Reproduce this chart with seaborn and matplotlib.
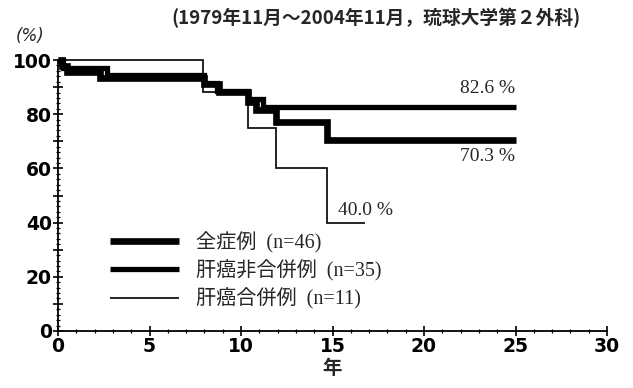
import numpy as np
import pandas as pd
import seaborn as sns
import matplotlib
matplotlib.use("Agg")
import matplotlib.pyplot as plt
from matplotlib.ticker import MultipleLocator, FuncFormatter

# --- データ (年, 生存率 %) ---
all_years = [0, 0.2, 0.5, 2.3, 8.0, 8.8, 10.4, 10.8, 11.9, 14.7, 25.0]
all_surv = [100, 97.8, 95.7, 93.4, 91.2, 88.2, 84.4, 81.6, 77.0, 70.3, 70.3]

noncirr_years = [0, 0.3, 2.7, 8.0, 8.7, 10.4, 11.2, 25.0]
noncirr_surv = [100, 97.1, 94.3, 91.4, 88.6, 85.7, 82.6, 82.6]

cirr_years = [0, 7.9, 10.4, 11.9, 14.7, 16.8]
cirr_surv = [100, 88.2, 75.0, 60.0, 40.0, 40.0]

labels = ["全症例  (n=46)", "肝癌非合併例  (n=35)", "肝癌合併例  (n=11)"]
end_labels = ["70.3 %", "82.6 %", "40.0 %"]

sns.set_style("ticks")
plt.rcParams["font.family"] = ["DejaVu Sans", "Noto Sans CJK JP"]

fig = plt.figure(figsize=(6.33, 3.88), dpi=100)
ax = fig.add_axes([58 / 633, 57 / 388, 549 / 633, 271 / 388])

series = [
    (all_years, all_surv, 4.8, 3),
    (noncirr_years, noncirr_surv, 3.8, 4),
    (cirr_years, cirr_surv, 1.2, 5),
]
for (xs, ys, lw, z), lab in zip(series, labels):
    df = pd.DataFrame({"year": xs, "surv": ys})
    sns.lineplot(data=df, x="year", y="surv", ax=ax, color="black", lw=lw,
                 drawstyle="steps-post", estimator=None, label=lab,
                 zorder=z, clip_on=False, solid_capstyle="butt",
                 solid_joinstyle="miter")

# 最終生存率
serif = ["Liberation Serif", "DejaVu Serif"]
ax.text(25, 86.5, end_labels[1], ha="right", va="bottom", fontsize=14, family=serif)
ax.text(25, 67.5, end_labels[0], ha="right", va="top", fontsize=14, family=serif)
ax.text(15.3, 41.5, end_labels[2], ha="left", va="bottom", fontsize=14, family=serif)

leg = ax.legend(loc="upper left", bbox_to_anchor=(0.095, 0.365), frameon=False,
                handlelength=3.4, handletextpad=0.85, labelspacing=0.33,
                borderpad=0, borderaxespad=0,
                prop={"family": ["Liberation Serif", "Noto Sans CJK JP"], "size": 14.5})

ax.set_xlim(0, 30)
ax.set_ylim(0, 100)
ax.xaxis.set_major_locator(MultipleLocator(5))
ax.xaxis.set_minor_locator(MultipleLocator(1))
ax.yaxis.set_major_locator(MultipleLocator(10))
ax.yaxis.set_minor_locator(MultipleLocator(2))
ax.yaxis.set_major_formatter(FuncFormatter(lambda v, p: f"{int(v)}" if int(v) % 20 == 0 else ""))
ax.tick_params(which="major", direction="inout", length=7, width=1.2, labelsize=13.5,
               color="black", labelcolor="black", pad=1)
ax.tick_params(which="minor", direction="inout", length=3.5, width=0.9, color="black")
for t in ax.get_xticklabels() + ax.get_yticklabels():
    t.set_fontweight("bold")
for s in ["top", "right"]:
    ax.spines[s].set_visible(False)
for s in ["left", "bottom"]:
    ax.spines[s].set_linewidth(1.3)
    ax.spines[s].set_color("black")

ax.set_xlabel("年", fontsize=14, fontweight="bold", labelpad=2)
ax.set_ylabel("")
fig.text(30 / 633, 1 - 36 / 388, "(%)", ha="center", va="center", fontsize=12, style="italic")
fig.text(376 / 633, 1 - 18 / 388, "(1979年11月～2004年11月，琉球大学第２外科)",
         ha="center", va="center", fontsize=13.5, fontweight="bold",
         family=["Noto Sans CJK JP", "DejaVu Sans"])

fig.savefig("out.png", dpi=100)
